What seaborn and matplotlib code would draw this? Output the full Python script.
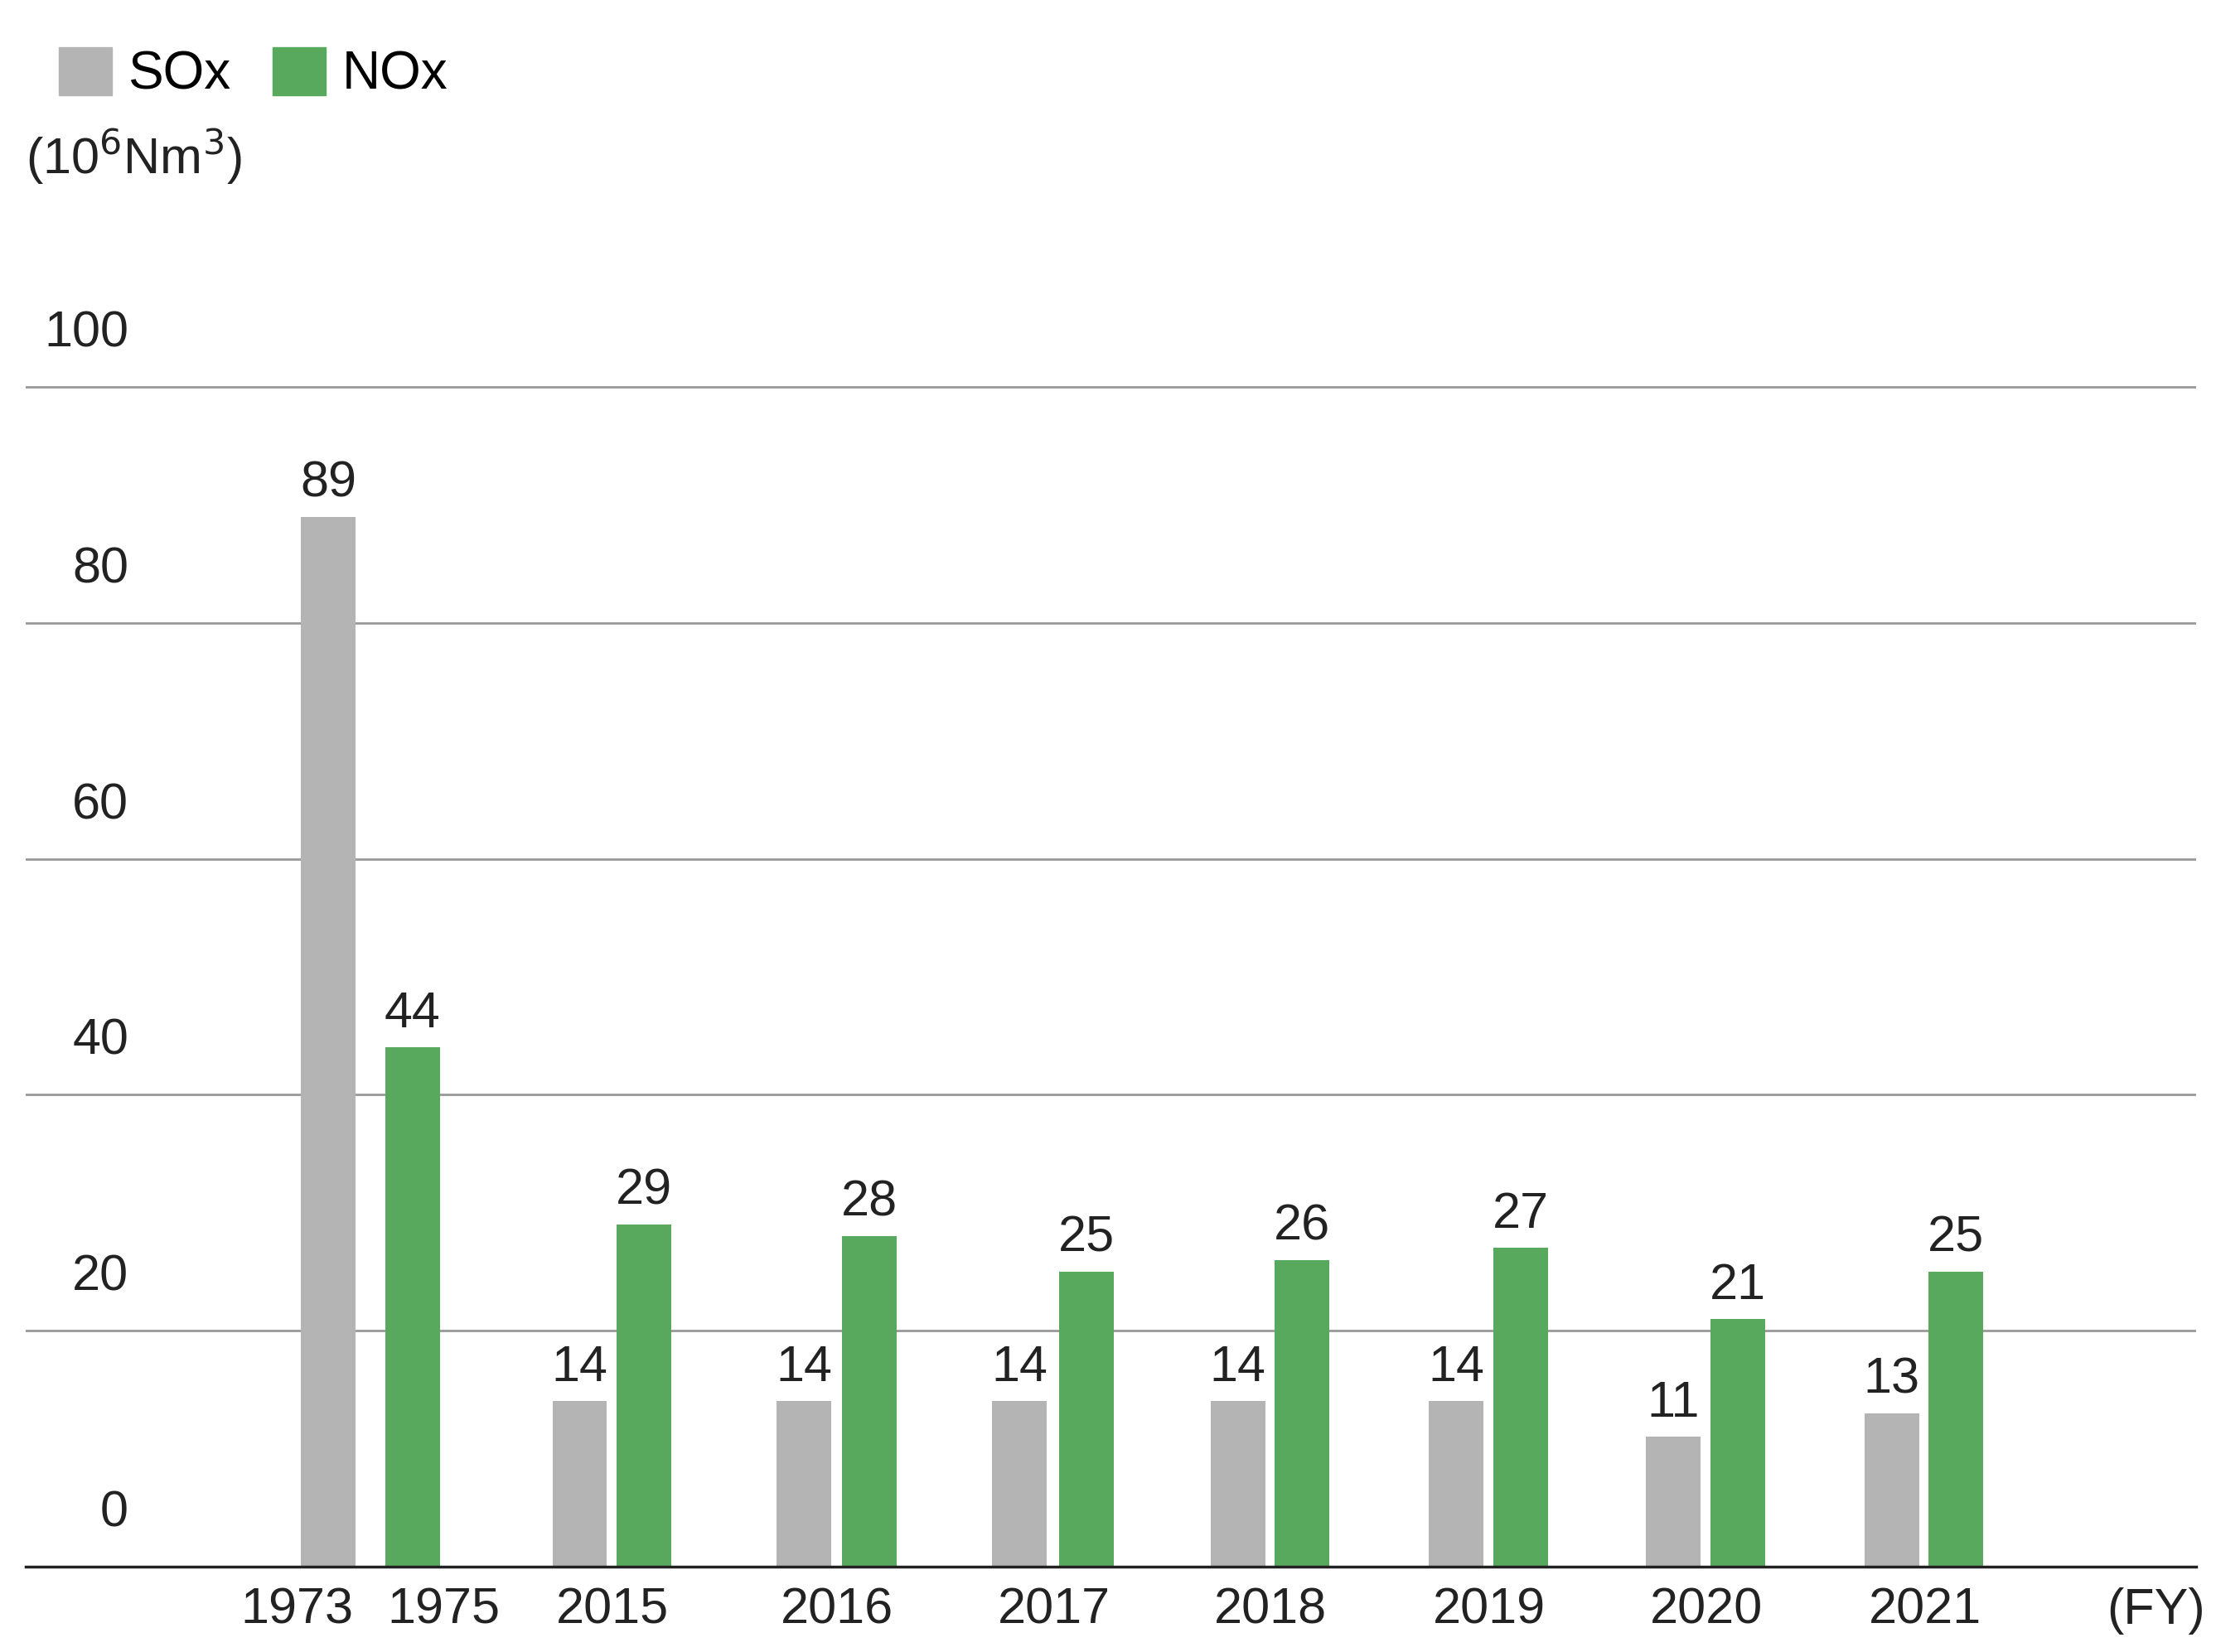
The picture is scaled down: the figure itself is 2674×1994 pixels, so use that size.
import matplotlib
matplotlib.use("Agg")
import matplotlib.pyplot as plt
import seaborn as sns
import pandas as pd
from matplotlib.patches import Patch

years = ["1973", "1975", "2015", "2016", "2017", "2018", "2019", "2020", "2021"]
sox = [89, None, 14, 14, 14, 14, 14, 11, 13]
nox = [None, 44, 29, 28, 25, 26, 27, 21, 25]
# horizontal layout positions (axis units)
sox_pos = [230, None, 406, 563, 714, 867, 1020, 1172, 1325]
nox_pos = [None, 289, 451, 609, 761, 912, 1065, 1217, 1370]
tick_pos = [208, 311, 429, 586, 738, 890, 1043, 1195, 1348]

rows = []
for y, s, n, sp, npos in zip(years, sox, nox, sox_pos, nox_pos):
    if s is not None:
        rows.append(dict(pos=sp, val=s, series="SOx"))
    if n is not None:
        rows.append(dict(pos=npos, val=n, series="NOx"))
df = pd.DataFrame(rows)

GRAY = "#b4b4b4"
GREEN = "#58a95d"
plt.rcParams["font.family"] = "Liberation Sans"

fig = plt.figure(figsize=(26.74, 19.94), dpi=100)
ax = fig.add_axes([18/1552, 1 - 1097/1157, 1520/1552, (1097 - 106)/1157])
sns.barplot(data=df, x="pos", y="val", hue="series", native_scale=True,
            dodge=False, width=0.85, palette={"SOx": GRAY, "NOx": GREEN},
            ax=ax, legend=False, saturation=1)
ax.set_xlim(18, 1538)
ax.set_ylim(0, 120)
for c in ax.containers:
    ax.bar_label(c, fmt="%d", padding=8, fontsize=44, color="#222222")
for v in [20, 40, 60, 80, 100]:
    ax.axhline(v, color="#999999", lw=2, zorder=0)
for v in [0, 20, 40, 60, 80, 100]:
    ax.text(90, v + 2.5, str(v), ha="right", va="bottom", fontsize=44, color="#222222")
ax.set_xticks(tick_pos + [1510], years + ["(FY)"])
ax.tick_params(axis="x", length=0, labelsize=44, labelcolor="#222222", pad=18)
ax.set_yticks([])
ax.set_xlabel("")
ax.set_ylabel("")
for s in ["top", "right", "left"]:
    ax.spines[s].set_visible(False)
ax.spines["bottom"].set_linewidth(2.5)
ax.spines["bottom"].set_color("#222222")

fig.legend(handles=[Patch(color=GRAY, label="SOx"), Patch(color=GREEN, label="NOx")],
           loc="upper left", bbox_to_anchor=(0.005, 1.0), ncol=2, frameon=False,
           fontsize=46, handlelength=1.0, handleheight=1.0, handletextpad=0.3,
           columnspacing=0.8)
fig.text(18/1552, 1 - 110/1157, r"(10$^6$Nm$^3$)", fontsize=44, color="#222222",
         ha="left", va="center")
fig.savefig("out.png", dpi=100)
